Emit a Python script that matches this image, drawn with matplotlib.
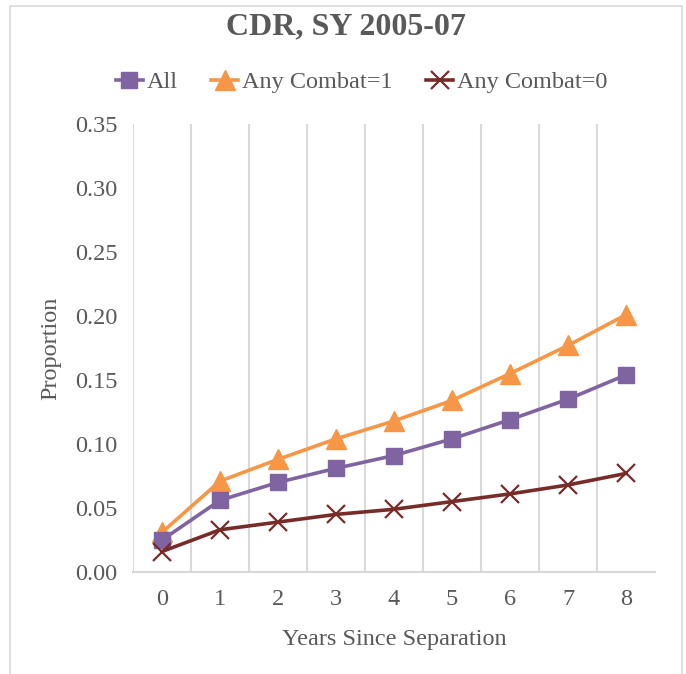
import numpy as np
import matplotlib
matplotlib.use('Agg')
import matplotlib.pyplot as plt
from matplotlib.patches import Rectangle

# data
years = [0, 1, 2, 3, 4, 5, 6, 7, 8]
all_vals = [0.025, 0.056, 0.070, 0.081, 0.091, 0.104, 0.119, 0.135, 0.154]
combat1 = [0.031, 0.071, 0.088, 0.104, 0.118, 0.134, 0.155, 0.177, 0.201]
combat0 = [0.016, 0.033, 0.039, 0.045, 0.049, 0.055, 0.061, 0.068, 0.077]
yticks = [0.00, 0.05, 0.10, 0.15, 0.20, 0.25, 0.30, 0.35]

plt.rcParams['font.family'] = ['Liberation Serif', 'DejaVu Serif']
txt = '#595959'
grid_c = '#D9D9D9'

fig = plt.figure(figsize=(6.86, 6.74), dpi=100)
ax = fig.add_axes([133/686, 1-572/674, (655-133)/686, (572-124)/674])

# outer chart border
fig.patches.append(Rectangle((10/686, -0.01), 672/686, 1-6/674+0.01,
                             transform=fig.transFigure, fill=False,
                             ec=grid_c, lw=1.2))

# vertical gridlines between categories
for g in np.arange(-0.5, 8, 1.0):
    ax.axvline(g, color=grid_c, lw=1.5, zorder=0)

ax.plot(years, all_vals, color='#8064A2', lw=2.6, marker='s', ms=12,
        label='All', zorder=3)
ax.plot(years, combat1, color='#F79646', lw=2.6, marker='^', ms=14,
        label='Any Combat=1', zorder=2)
ax.plot(years, combat0, color='#772C2A', lw=2.6, marker='x', ms=12.5, mew=1.6,
        label='Any Combat=0', zorder=4)

ax.set_xlim(-0.5, 8.5)
ax.set_ylim(0, 0.35)
ax.set_xticks(years)
ax.set_yticks(yticks)
ax.set_yticklabels([f'{v:.2f}' for v in yticks])
ax.tick_params(length=0, labelsize=17.5, colors=txt)
ax.tick_params(axis='y', pad=11)
ax.tick_params(axis='x', pad=12)

for s in ['top', 'right', 'left']:
    ax.spines[s].set_visible(False)
ax.spines['bottom'].set_color(grid_c)
ax.spines['bottom'].set_linewidth(1.5)

ax.set_xlabel('Years Since Separation', fontsize=17.5, color=txt, labelpad=14)
ax.set_ylabel('Proportion', fontsize=17.5, color=txt, labelpad=10)

fig.text(0.505, 1-27/674, 'CDR, SY 2005-07', ha='center', va='center',
         fontsize=23, fontweight='bold', color=txt)

leg = fig.legend(loc='center', bbox_to_anchor=(0.527, 1-82/674), ncol=3,
                 frameon=False, fontsize=17.5, handlelength=1.1,
                 handletextpad=0.15, columnspacing=1.4)
for t in leg.get_texts():
    t.set_color(txt)

fig.savefig('out.png', dpi=100)
